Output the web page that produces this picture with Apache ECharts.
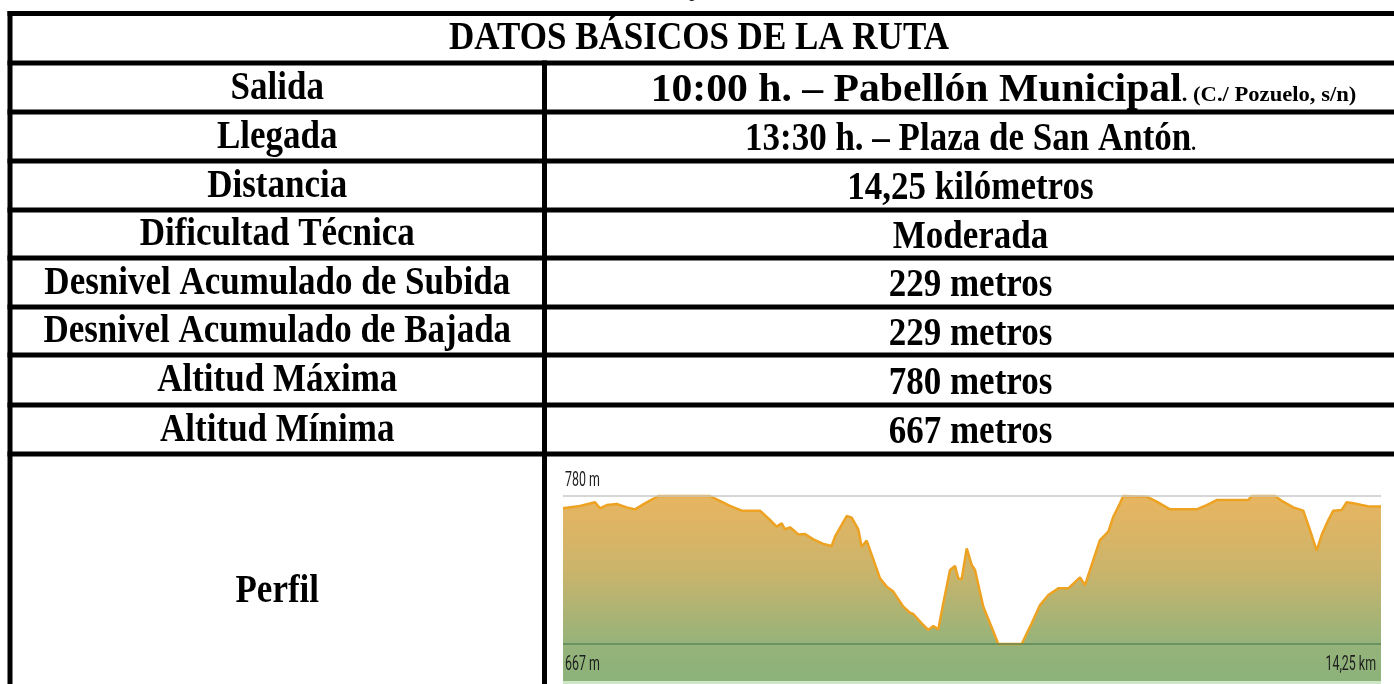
<!DOCTYPE html>
<html>
<head>
<meta charset="utf-8">
<script src="https://cdn.jsdelivr.net/npm/echarts@6/dist/echarts.min.js"></script>
<style>
html,body{margin:0;padding:0;background:#fff;}
#c{width:1394px;height:684px;}
</style>
</head>
<body>
<div id="c"></div>
<script>
// ---- data ----
var title = 'DATOS BÁSICOS DE LA RUTA';
var rowLabels = ['Salida', 'Llegada', 'Distancia', 'Dificultad Técnica',
  'Desnivel Acumulado de Subida', 'Desnivel Acumulado de Bajada',
  'Altitud Máxima', 'Altitud Mínima'];
var rowValues = ['10:00 h. – Pabellón Municipal', '13:30 h. – Plaza de San Antón',
  '14,25 kilómetros', 'Moderada', '229 metros', '229 metros', '780 metros', '667 metros'];
var rowNotes = ['. (C./ Pozuelo, s/n)', '.', '', '', '', '', '', ''];
var profileLabel = 'Perfil';
var tickLabels = ['780 m', '667 m', '14,25 km'];
var profileKm = [0, 0.296, 0.557, 0.645, 0.761, 0.935, 1.109, 1.254, 1.428, 1.660,
  2.561, 2.677, 2.909, 3.113, 3.432, 3.606, 3.722, 3.810, 3.867, 3.955,
  4.099, 4.216, 4.361, 4.535, 4.681, 4.738, 4.855, 4.942, 5.029, 5.144,
  5.203, 5.290, 5.378, 5.522, 5.639, 5.754, 5.928, 6.045, 6.102, 6.249,
  6.364, 6.451, 6.538, 6.625, 6.742, 6.829, 6.886, 6.945, 7.033, 7.120,
  7.177, 7.322, 7.439, 7.583, 7.990, 8.165, 8.310, 8.455, 8.629, 8.803,
  9.007, 9.094, 9.181, 9.355, 9.500, 9.587, 9.703, 9.761, 10.168, 10.342,
  10.574, 11.039, 11.213, 11.387, 11.938, 11.997, 12.403, 12.520, 12.722, 12.896,
  13.013, 13.129, 13.216, 13.332, 13.419, 13.565, 13.652, 13.767, 13.914, 14.058, 14.25];
var profileAlt = [770.6, 772.4, 775.2, 770.6, 773.1, 773.9, 771.3, 769.8, 774.4, 780,
  780, 777.5, 772.4, 768.8, 768.8, 761.7, 756.6, 759.1, 754.6, 756.1,
  750.7, 751.0, 746.9, 743.4, 741.8, 749.0, 757.9, 764.7, 763.5, 754.6,
  741.3, 745.9, 735.0, 717.1, 710.8, 707.0, 695.5, 690.9, 689.9, 682.8,
  677.7, 680.7, 678.2, 698.1, 723.5, 726.6, 717.1, 716.4, 740.0, 727.3,
  723.5, 695.5, 682.8, 667, 667, 682.8, 696.8, 704.4, 709.5, 709.5,
  717.9, 712.0, 723.5, 746.4, 752.8, 764.2, 774.4, 780, 779.5, 775.7,
  769.8, 769.8, 773.1, 776.9, 776.9, 780, 780, 776.4, 771.3, 768.8,
  754.0, 738.3, 750.2, 761.7, 768.8, 769.3, 775.2, 774.4, 773.1, 771.9, 771.9];
var altMax = 780, altMin = 667, kmTotal = 14.25;

// ---- layout ----
var W = 1394, H = 684;
var lineTops = [11, 60.5, 109.5, 158.5, 207.5, 255.5, 304.5, 352.5, 402.5, 451.5];
var lw = 5;
var leftX = 7.5, divX = 542;
var serif = '"Liberation Serif", "Times New Roman", serif';
var cond = 'Roboto, "DejaVu Sans Condensed", sans-serif';
var fs = 35, sy = 1.12;

var g = [];
lineTops.forEach(function (y) {
  g.push({type: 'rect', shape: {x: leftX, y: y, width: W - leftX, height: lw}, style: {fill: '#000'}, z: 10});
});
g.push({type: 'rect', shape: {x: leftX, y: lineTops[0], width: lw, height: H - lineTops[0]}, style: {fill: '#000'}, z: 10});
g.push({type: 'rect', shape: {x: divX, y: lineTops[1], width: lw, height: H - lineTops[1]}, style: {fill: '#000'}, z: 10});

function rowCenter(i) { return (lineTops[i] + lw + lineTops[i + 1]) / 2; }
var leftC = (leftX + lw + divX) / 2;
var rightC = (divX + lw + W) / 2;

function serifText(t, x, y, sx) {
  return {type: 'text', x: x, y: y, scaleY: sy, scaleX: sx || 1, z: 11,
    style: {text: t, x: 0, y: 0, font: 'bold ' + fs + 'px ' + serif, fill: '#000',
      textAlign: 'center', textVerticalAlign: 'middle'}};
}

// stray descender from the line above the table
g.push({type: 'text', x: 697, y: 2, z: 11,
  style: {text: 'j', x: 0, y: 0, font: 'italic 30px ' + serif, fill: '#000', textAlign: 'center', textVerticalAlign: 'bottom'}});

g.push(serifText(title, 699, rowCenter(0) + 1));

rowLabels.forEach(function (t, i) {
  var y = rowCenter(i + 1) + 1;
  g.push(serifText(t, leftC, y));
  var txt = '{a|' + rowValues[i] + '}' + (rowNotes[i] ? '{b|' + rowNotes[i] + '}' : '');
  g.push({type: 'text', x: rightC + (i === 0 ? 33 : 0), y: y, scaleY: sy, scaleX: i === 0 ? 1.19 : 1, z: 11,
    style: {text: txt, x: 0, y: 0, fill: '#000', textAlign: 'center', textVerticalAlign: 'middle',
      rich: {
        a: {font: 'bold ' + fs + 'px ' + serif, fill: '#000', lineHeight: 40, verticalAlign: 'bottom'},
        b: {font: 'bold 19px ' + serif, fill: '#000', lineHeight: 40, verticalAlign: 'bottom', padding: [0, 0, 4, 0]}
      }}});
});

g.push(serifText(profileLabel, leftC, 592));

// profile labels
function condText(t, x, y, align) {
  return {type: 'text', x: x, y: y, scaleX: 0.62, z: 12,
    style: {text: t, x: 0, y: 0, font: '20px ' + cond, fill: '#1e1e1e', textAlign: align, textVerticalAlign: 'middle'}};
}
g.push(condText(tickLabels[0], 565, 481, 'left'));
g.push(condText(tickLabels[1], 565, 665, 'left'));
g.push(condText(tickLabels[2], 1376, 665, 'right'));
g.push({type: 'rect', shape: {x: 563, y: 681, width: 818, height: 3}, style: {fill: '#cfe6c6'}, z: 1});

var data = profileKm.map(function (k, i) { return [k, profileAlt[i]]; });

var chart = echarts.init(document.getElementById('c'), null, {renderer: 'canvas'});
chart.setOption({
  animation: false,
  backgroundColor: '#fff',
  grid: {left: 563, right: 13, top: 496, bottom: 3, containLabel: false},
  xAxis: {type: 'value', min: 0, max: kmTotal, show: false},
  yAxis: {type: 'value', min: 638.75, max: altMax, show: false},
  series: [{
    type: 'line',
    data: data,
    symbol: 'none',
    clip: false,
    lineStyle: {color: '#eea222', width: 2.5},
    areaStyle: {
      origin: 'start',
      opacity: 1,
      color: new echarts.graphic.LinearGradient(0, 0, 0, 1, [
        {offset: 0, color: '#e8b560'},
        {offset: 0.4, color: '#cbb46b'},
        {offset: 0.8, color: '#95b37a'},
        {offset: 1, color: '#8cb27a'}
      ])
    },
    markLine: {
      silent: true,
      symbol: 'none',
      label: {show: false},
      data: [
        {yAxis: altMax, lineStyle: {color: '#c8c8c8', width: 1.5, type: 'solid'}},
        {yAxis: altMin, lineStyle: {color: '#5b8758', width: 1.5, type: 'solid'}}
      ]
    }
  }],
  graphic: g
});
</script>
</body>
</html>
